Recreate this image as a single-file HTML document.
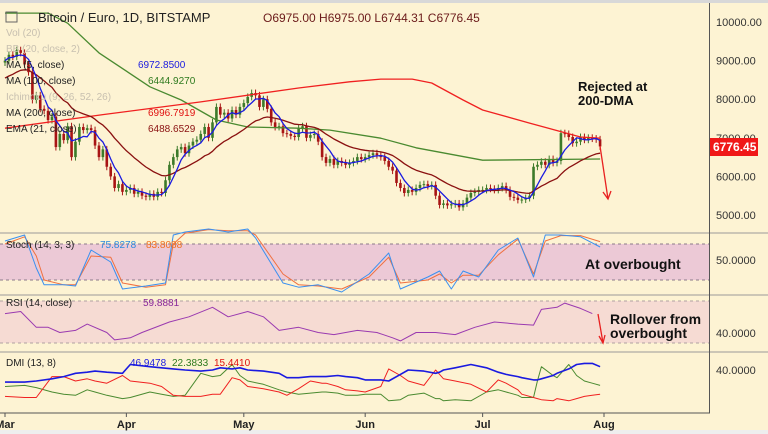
<!DOCTYPE html>
<html><head><meta charset="utf-8"><style>
body{margin:0;background:#fdf3d3;width:768px;height:434px;overflow:hidden;font-family:"Liberation Sans",sans-serif}
svg{display:block}
</style></head><body>
<svg id="c" width="768" height="434" xmlns="http://www.w3.org/2000/svg" font-family="Liberation Sans, sans-serif">
<rect x="0" y="0" width="768" height="434" fill="#fdf3d3"/>
<rect x="0" y="0" width="768" height="3" fill="#d8d8d8"/>
<rect x="0" y="430" width="768" height="4" fill="#eeeeee"/>
<rect x="0" y="244" width="709" height="36" fill="#ecc9d6"/>
<line x1="0" y1="244" x2="709" y2="244" stroke="#8a7a8a" stroke-dasharray="3,3"/>
<line x1="0" y1="280" x2="709" y2="280" stroke="#8a7a8a" stroke-dasharray="3,3"/>
<rect x="0" y="301" width="709" height="42" fill="#f6dbd3"/>
<line x1="0" y1="301" x2="709" y2="301" stroke="#b0a0a0" stroke-dasharray="3,3"/>
<line x1="0" y1="343" x2="709" y2="343" stroke="#b0a0a0" stroke-dasharray="3,3"/>
<line x1="0" y1="233" x2="768" y2="233" stroke="#9a9a9a"/>
<line x1="0" y1="295" x2="768" y2="295" stroke="#9a9a9a"/>
<line x1="0" y1="352" x2="768" y2="352" stroke="#9a9a9a"/>
<line x1="0" y1="413" x2="710" y2="413" stroke="#555"/>
<line x1="709.5" y1="3" x2="709.5" y2="413" stroke="#555"/>
<g id="marks"></g>
<g id="labels" font-size="11" fill="#333"></g>
<text x="38" y="22" font-size="13" fill="#222">Bitcoin / Euro, 1D, BITSTAMP</text>
<rect x="6" y="12" width="11" height="10" fill="none" stroke="#666"/>
<text x="263" y="22" font-size="12" fill="#6b1a1a">O6975.00  H6975.00  L6744.31  C6776.45</text>
<g font-size="10" fill="#222">
<text x="6" y="36" fill="#c8c0b0">Vol (20)</text>
<text x="6" y="52" fill="#c8c0b0">BB (20, close, 2)</text>
<text x="6" y="68">MA (5, close)</text><text x="138" y="68" fill="#1a1ae0">6972.8500</text>
<text x="6" y="84">MA (100, close)</text><text x="148" y="84" fill="#2e7a1e">6444.9270</text>
<text x="6" y="100" fill="#c8c0b0">Ichimoku (9, 26, 52, 26)</text>
<text x="6" y="116">MA (200, close)</text><text x="148" y="116" fill="#e01010">6996.7919</text>
<text x="6" y="132">EMA (21, close)</text><text x="148" y="132" fill="#8a1010">6488.6529</text>
<text x="6" y="248">Stoch (14, 3, 3)</text><text x="100" y="248" fill="#2a8ae0">75.8278</text><text x="146" y="248" fill="#f07020">83.8088</text>
<text x="6" y="306">RSI (14, close)</text><text x="143" y="306" fill="#8a2a9a">59.8881</text>
<text x="6" y="366">DMI (13, 8)</text><text x="130" y="366" fill="#1a1ae0">46.9478</text><text x="172" y="366" fill="#2e7a1e">22.3833</text><text x="214" y="366" fill="#e01010">15.4410</text>
</g>
<rect x="710" y="138" width="48" height="18" fill="#f01818"/>
<text x="713" y="151" font-size="12" fill="#fff" font-weight="bold">6776.45</text>
<text x="578" y="91" font-size="13" font-weight="bold" fill="#111">Rejected at</text>
<text x="578" y="105" font-size="13" font-weight="bold" fill="#111">200-DMA</text>
<text x="585" y="269" font-size="14" font-weight="bold" fill="#111">At overbought</text>
<text x="610" y="324" font-size="14" font-weight="bold" fill="#111">Rollover from</text>
<text x="610" y="338" font-size="14" font-weight="bold" fill="#111">overbought</text>
<g stroke="#e82020" stroke-width="1.3" fill="none">
<line x1="600" y1="146" x2="608" y2="199"/><polyline points="603,192 608,199 611,191"/>
<line x1="598" y1="314" x2="603" y2="343"/><polyline points="599,336 603,343 605,335"/>
</g>
</svg>
<script>
const closes=[9000,9150,9100,9270,9200,8900,8700,7980,8100,7750,
7700,7460,7550,6760,7100,6940,7300,6500,6900,7280,
7200,7250,7200,6800,6500,6700,6250,6000,5700,5800,
5600,5650,5700,5550,5600,5500,5470,5550,5470,
5600,5570,5900,6300,6500,6700,6760,6600,6800,6900,
6950,7100,7280,7000,7400,7800,7600,7650,7500,7720,
7600,7800,7900,8060,8160,8100,7800,8000,7750,7400,
7280,7300,7120,7100,7050,7020,7250,7300,7000,7070,
7100,6900,6500,6350,6450,6300,6400,6350,6300,6350,
6400,6500,6450,6500,6550,6600,6550,6500,6400,6250,
6150,5830,5700,5570,5650,5600,5700,5780,5800,5750,
5780,5500,5260,5300,5250,5280,5300,5200,5300,5450,
5570,5600,5650,5650,5700,5680,5650,5700,5750,5650,
5470,5450,5390,5400,5440,5500,6250,6300,6380,6300,
6450,6350,6400,7120,7100,7020,6860,6900,7020,6950,
7000,6980,6960,6776];
const ma200Days=[0,25,50,75,88,96,104,109,117,122,134,147,152];
const ma200Vals=[7250,7600,7930,8290,8450,8520,8520,8420,7980,7720,7380,7020,6990];
const ma100Days=[0,11,16,24,37,45,54,62,75,83,96,105,122,152];
const ma100Vals=[10230,10230,9970,9200,8320,7980,7460,7280,7250,7200,6990,6740,6420,6450];
const stochDays=[0,5,8,10,15,18,22,27,30,36,41,43,46,52,57,62,64,71,75,80,86,93,98,101,108,111,114,117,121,126,131,135,138,142,147,152];
const stochK=[85,95,40,12,12,10,70,50,5,10,15,95,100,105,100,105,90,15,8,12,0,30,65,5,25,35,5,35,25,70,90,25,95,95,92,75];
const stochD=[80,92,60,20,12,12,60,58,15,8,12,80,98,104,102,102,95,30,12,10,5,25,58,15,20,30,15,28,28,62,88,30,85,94,94,84];
const rsiDays=[0,4,8,11,14,18,21,26,28,32,35,42,47,53,57,62,66,70,75,80,84,90,95,99,101,105,110,115,120,125,131,135,137,141,143,147,150];
const rsiVals=[58,60,45,45,40,42,48,40,33,35,40,50,55,64,55,60,55,42,45,40,38,42,40,35,32,40,40,38,45,50,48,47,62,64,68,63,58];
const dmiDays=[0,5,8,12,15,18,21,23,26,30,32,37,40,43,46,50,53,55,58,60,62,66,70,72,75,78,81,82,85,87,90,92,96,98,101,103,107,110,111,112,115,119,123,126,128,131,132,135,136,137,140,141,144,146,148,150,152];
const adxVals=[29,29,30,32,34,37,38,39,38,37,45,43,42,41,40,39,40,42,41,42,40,39,37,33,33,34,34,34,35,34,33,31,31,30,36,40,39,37,38,40,42,45,42,38,36,34,33,31,31,32,35,37,41,45,46,46,43];
const pdiVals=[25,26,24,20,18,17,22,20,17,14,15,20,18,16,17,37,34,35,45,35,30,27,22,20,18,19,20,20,19,17,17,18,18,12,13,17,19,14,14,12,13,12,20,22,20,17,15,15,30,43,35,33,45,35,30,28,26];
const mdiVals=[16,15,15,34,34,30,32,30,28,35,30,28,25,17,16,16,18,18,33,31,25,23,20,17,23,30,28,28,25,22,21,20,25,41,35,30,26,40,36,32,30,27,20,31,28,22,18,15,14,13,12,14,12,14,16,17,18];
const months=["Mar","Apr","May","Jun","Jul","Aug"];
const monthDays=[0,31,61,92,122,153];
const yTicks=[10000,9000,8000,7000,6000,5000];

const X=d=>5+d*3.915;
const Y=p=>22+(10000-p)*0.0386;
const YS=v=>292-v*0.6;
const YR=v=>343-(v-30)*1.05;
const YD=v=>370-(v-40)*1.1;
const NS='http://www.w3.org/2000/svg';
const g=document.getElementById('marks');
function el(t,a,p){const e=document.createElementNS(NS,t);for(const k in a)e.setAttribute(k,a[k]);(p||g).appendChild(e);return e;}
function line(days,vals,fy,color,w,name){
  const pts=days.map((d,i)=>X(d).toFixed(1)+','+fy(vals[i]).toFixed(1)).join(' ');
  const e=el('polyline',{points:pts,fill:'none',stroke:color,'stroke-width':w,'stroke-linejoin':'round'});
  
  
}
const idx=closes.map((_,i)=>i);
closes.forEach((c,i)=>{
  const o=i?closes[i-1]:8950;
  const up=c>=o, col=up?'#3d7a2a':'#a81414';
  const hi=Math.max(o,c)+90, lo=Math.min(o,c)-90;
  const w=el('line',{x1:X(i),x2:X(i),y1:Y(hi),y2:Y(lo),stroke:col,'stroke-width':1});
  
  
  const b=el('rect',{x:X(i)-1.3,y:Math.min(Y(o),Y(c)),width:2.6,height:Math.max(1,Math.abs(Y(o)-Y(c))),fill:col});
  
  
});
line(ma100Days,ma100Vals,Y,'#4a8a30',1.3,'ma100-line');
line(ma200Days,ma200Vals,Y,'#f02020',1.3,'ma200-line');
let e=8500;const ema=closes.map(c=>(e=e+(c-e)*2/22));
line(idx,ema,Y,'#8a1010',1.3,'ema21-line');
const ma5=closes.map((c,i)=>{const s=closes.slice(Math.max(0,i-4),i+1);return s.reduce((a,b)=>a+b,0)/s.length;});
line(idx,ma5,Y,'#1a1ae0',1.3,'ma5-line');
line(stochDays,stochD,YS,'#f07040',1,'stoch-d-line');
line(stochDays,stochK,YS,'#3a90f0',1,'stoch-k-line');
line(rsiDays,rsiVals,YR,'#9a3ab0',1,'rsi-line');
line(dmiDays,pdiVals,YD,'#4a8a30',1,'dmi-plus-line');
line(dmiDays,mdiVals,YD,'#f02020',1,'dmi-minus-line');
line(dmiDays,adxVals,YD,'#1a1ae0',1.6,'adx-line');
const L=document.getElementById('labels');
yTicks.forEach(v=>{
  const t=el('text',{x:716,y:Y(v)+4},L);t.textContent=v.toFixed(2);
  
  
});
[[264,'50.0000'],[337,'40.0000'],[374,'40.0000']].forEach(a=>{const t=el('text',{x:716,y:a[0]},L);t.textContent=a[1];
  
  });
months.forEach((m,i)=>{
  el('line',{x1:X(monthDays[i]),x2:X(monthDays[i]),y1:413,y2:417,stroke:'#555'});
  const t=el('text',{x:X(monthDays[i]),y:428,'text-anchor':'middle','font-weight':'bold','font-size':'11',fill:'#222'},L);
  t.textContent=m;
  
  
});
</script>
</body></html>
